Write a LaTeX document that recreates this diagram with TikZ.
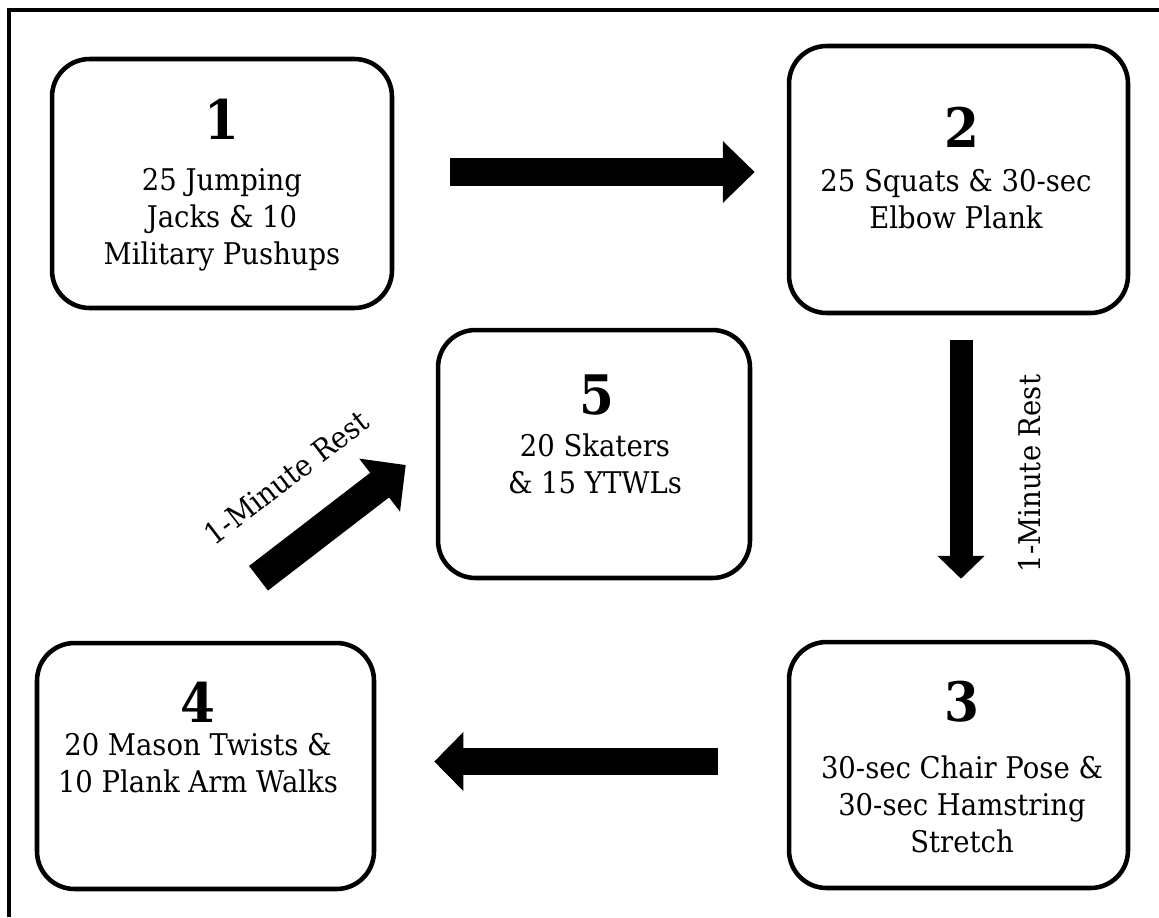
\documentclass[tikz,border=0pt]{standalone}
\usepackage{fontspec}
\setmainfont{DejaVu Serif}[FakeStretch=0.92]
\usetikzlibrary{arrows.meta,positioning,calc}

\begin{document}
\begin{tikzpicture}[
    x=0.02cm, y=-0.02cm,
    stage/.style 2 args={draw, line width=2.6pt, rounded corners=0.75cm, minimum width=#1, minimum height=#2, inner sep=0pt},
    num/.style={font=\fontsize{31}{36}\selectfont\bfseries, inner sep=0pt},
    desc/.style={font=\fontsize{17}{21}\selectfont, align=center, inner sep=0pt},
    rest/.style={font=\fontsize{17}{21}\selectfont, inner sep=0pt},
    bigarrow/.style={line width=0.56cm, -{Triangle[length=0.64cm, width=1.2cm]}},
]
    \useasboundingbox (0,0) rectangle (1159,917);

    % --- Frame ---
    \draw[line width=2.3pt] (9,917) -- (9,10) -- (1159,10);

    % --- Boxes ---
    \node[stage={6.8cm}{4.98cm}] (b1) at (222,183.5) {};
    \node[stage={6.78cm}{5.34cm}] (b2) at (958.5,179.5) {};
    \node[stage={6.78cm}{4.92cm}] (b3) at (958.5,765) {};
    \node[stage={6.74cm}{4.92cm}] (b4) at (205.5,766) {};
    \node[stage={6.24cm}{4.96cm}] (b5) at (594,454) {};

    % --- Step numbers ---
    \node[num] (n1) at ($(b1)+(0,-64.5)$) {1};
    \node[num] (n2) at ($(b2)+(3.5,-52.5)$) {2};
    \node[num] (n3) at ($(b3)+(3.5,-63)$) {3};
    \node[num] (n4) at ($(b4)+(-7.5,-64)$) {4};
    \node[num] (n5) at ($(b5)+(3,-59)$) {5};

    % --- Exercises ---
    \node[desc] (d1) at ($(b1)+(0,36)$) {25 Jumping\\Jacks \& 10\\Military Pushups};
    \node[desc] (d2) at ($(b2)+(-2.5,19.5)$) {25 Squats \& 30-sec\\Elbow Plank};
    \node[desc] (d3) at ($(b3)+(3.5,39)$) {30-sec Chair Pose \&\\30-sec Hamstring\\Stretch};
    \node[desc] (d4) at ($(b4)+(-7.5,-3)$) {20 Mason Twists \&\\10 Plank Arm Walks};
    \node[desc] (d5) at ($(b5)+(1,10)$) {20 Skaters\\\& 15 YTWLs};

    % --- Arrows ---
    \draw[bigarrow] ($(b1.east)+(56,-11.5)$) -- ($(b2.west)+(-32,-7.5)$);

    \draw[bigarrow, line width=0.46cm, -{Triangle[length=0.46cm, width=0.92cm]}]
        ($(b2.south)+(2.5,24.5)$) -- ($(b3.north)+(2.5,-61)$);
    \node[rest, rotate=90] (l23) at ($(b2.south)!0.5!(b3.north)+(71.5,-4)$) {1-Minute Rest};

    \draw[bigarrow, line width=0.54cm, -{Triangle[length=0.58cm, width=1.14cm]}]
        ($(b3.west)+(-69,-3.5)$) -- ($(b4.east)+(58,-4.5)$);

    \draw[bigarrow, line width=0.62cm, -{Triangle[length=0.66cm, width=1.3cm]}]
        ($(b4.north)+(53,-62.5)$) -- ($(b5.west)+(-30,11)$)
        node[rest, pos=0.45, sloped, above=0.72cm] (l45) {1-Minute Rest};

\end{tikzpicture}
\end{document}
